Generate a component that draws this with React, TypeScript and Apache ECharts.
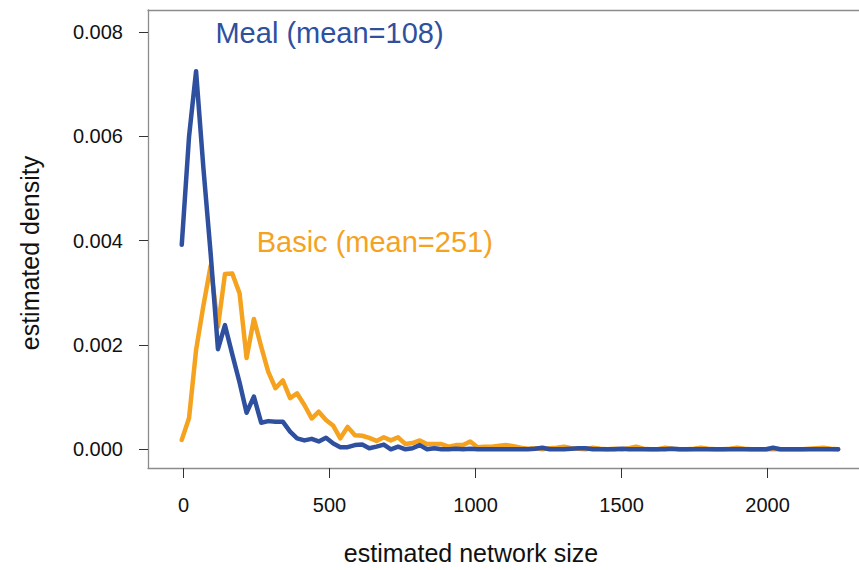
import React, { useEffect, useRef } from "react";
import * as echarts from "echarts";

// x grid of the density estimate (estimated network size)
const networkSize = [
  -6, 19, 43, 68, 93, 118, 142, 167, 192, 216,
  241, 266, 290, 315, 340, 365, 389, 414, 439, 463,
  488, 513, 537, 562, 587, 612, 636, 661, 686, 710,
  735, 760, 784, 809, 834, 859, 883, 908, 933, 957,
  982, 1007, 1031, 1056, 1081, 1106, 1130, 1155, 1180, 1204,
  1229, 1254, 1278, 1303, 1328, 1353, 1377, 1402, 1427, 1451,
  1476, 1501, 1525, 1550, 1575, 1600, 1624, 1649, 1674, 1698,
  1723, 1748, 1772, 1797, 1822, 1847, 1871, 1896, 1921, 1945,
  1970, 1995, 2019, 2044, 2069, 2094, 2118, 2143, 2168, 2192,
  2217, 2242,
];

// Meal condition density (blue)
const mealDensity = [
  0.00392, 0.006, 0.00725, 0.0054, 0.00375, 0.00192, 0.00238, 0.00182, 0.00128, 0.0007,
  0.00101, 0.00051, 0.00054, 0.00053, 0.00053, 0.00034, 0.00021, 0.00017, 0.0002, 0.00015,
  0.00022, 0.00011, 0.00004, 0.00004, 0.00008, 0.00009, 0.00002, 0.00005, 0.00009, 0.0,
  0.00005, 0.0, 0.00002, 0.00008, 0.0, 0.00002, 0.0, 0.0, 0.00001, 0.0,
  0.00001, 0.0, 0.0, 0.0, 0.0, 0.0, 0.0, 0.0, 0.0, 0.00001,
  0.00003, 0.0, 0.0, 0.0, 0.00001, 0.00002, 0.00002, 0.0, 0.0, 0.0,
  0.0, 0.00001, 0.0, 0.0, 0.0, 0.0, 0.0, 0.0, 0.00001, 0.0,
  0.0, 0.0, 0.0, 0.0, 0.0, 0.0, 0.0, 0.0, 0.0, 0.0,
  0.0, 0.0, 0.00003, 0.0, 0.0, 0.0, 0.0, 0.0, 0.0, 0.0,
  0.0, 0.0,
];

// Basic condition density (orange)
const basicDensity = [
  0.00018, 0.0006, 0.0019, 0.00275, 0.00352, 0.00235, 0.00336, 0.00337, 0.00299, 0.00175,
  0.0025, 0.00197, 0.00149, 0.00117, 0.00132, 0.00098, 0.00107, 0.00085, 0.00059, 0.00072,
  0.00056, 0.00045, 0.00021, 0.00043, 0.00027, 0.00026, 0.00022, 0.00016, 0.00023, 0.00017,
  0.00023, 0.0001, 0.00012, 0.00017, 0.0001, 0.0001, 0.0001, 0.00005, 0.00008, 0.00008,
  0.00015, 0.00004, 0.00005, 0.00005, 0.00007, 0.00008, 0.00006, 0.00003, 0.00001, 0.00002,
  0.0, 0.00002, 0.00003, 0.00005, 0.00002, 0.00001, 0.0, 0.00003, 0.00001, 0.0,
  0.00001, 0.0, 0.00002, 0.00005, 0.00001, 0.0, 0.0, 0.00003, 0.00001, 0.0,
  0.0, 0.00001, 0.00003, 0.00001, 0.0, 0.0, 0.00001, 0.00003, 0.00001, 0.0,
  0.0, 0.0, 0.0, 0.0, 0.0, 0.0, 0.0, 0.00001, 0.00002, 0.00003,
  0.00001, 0.0,
];

const xTicks = [0, 500, 1000, 1500, 2000];
const yTicks = [0, 0.002, 0.004, 0.006, 0.008];

const annotations = [
  { text: "Meal (mean=108)", x: 500, y: 0.00798, color: "#2F4F9F" },
  { text: "Basic (mean=251)", x: 655, y: 0.003975, color: "#F5A21F" },
];

const BLUE = "#2F4F9F";
const ORANGE = "#F5A21F";
const FRAME = "#8c8c8c";
const FONT = "'Liberation Sans', Arial, Helvetica, sans-serif";

const X_MIN = -121.6;
const X_MAX = 2313.3;

export default function App() {
  const ref = useRef<HTMLDivElement>(null);

  useEffect(() => {
    if (!ref.current) return;
    const chart = echarts.init(ref.current, null, { renderer: "svg" });
    const mk = (arr: number[]) => networkSize.map((x, i) => [x, arr[i]]);

    chart.setOption({
      animation: false,
      backgroundColor: "#ffffff",
      grid: {
        left: 148,
        top: 10,
        right: 0,
        bottom: 102,
        show: false,
      },
      xAxis: [
        {
          type: "value",
          position: "bottom",
          min: X_MIN,
          max: X_MAX,
          axisLine: { show: true, onZero: false, lineStyle: { color: FRAME, width: 1.3 } },
          splitLine: { show: false },
          axisTick: {
            show: true,
            customValues: xTicks,
            length: 10,
            lineStyle: { color: "#333333", width: 1 },
          },
          axisLabel: {
            show: true,
            customValues: xTicks,
            margin: 27,
            fontSize: 20,
            fontFamily: FONT,
            color: "#111111",
            formatter: (v: number) => String(v),
          },
        },
        {
          type: "value",
          position: "top",
          min: X_MIN,
          max: X_MAX,
          axisLine: { show: true, onZero: false, lineStyle: { color: FRAME, width: 1.3 } },
          splitLine: { show: false },
          axisTick: { show: false },
          axisLabel: { show: false },
        },
      ],
      yAxis: {
        type: "value",
        min: -0.000359,
        max: 0.008424,
        axisLine: { show: true, onZero: false, lineStyle: { color: FRAME, width: 1.3 } },
        splitLine: { show: false },
        axisTick: {
          show: true,
          customValues: yTicks,
          length: 9,
          lineStyle: { color: "#333333", width: 1 },
        },
        axisLabel: {
          show: true,
          customValues: yTicks,
          margin: 25,
          fontSize: 20,
          fontFamily: FONT,
          color: "#111111",
          formatter: (v: number) => v.toFixed(3),
        },
      },
      series: [
        {
          name: "Basic",
          type: "line",
          data: mk(basicDensity),
          showSymbol: false,
          symbol: "none",
          lineStyle: { color: ORANGE, width: 4.5, cap: "round", join: "round" },
          silent: true,
          z: 2,
        },
        {
          name: "Meal",
          type: "line",
          data: mk(mealDensity),
          showSymbol: false,
          symbol: "none",
          lineStyle: { color: BLUE, width: 4.5, cap: "round", join: "round" },
          silent: true,
          z: 3,
        },
        {
          name: "labels",
          type: "scatter",
          symbolSize: 0,
          silent: true,
          z: 4,
          itemStyle: { opacity: 1 },
          data: annotations.map((a) => ({
            value: [a.x, a.y],
            label: {
              show: true,
              position: "inside",
              formatter: a.text,
              color: a.color,
              opacity: 1,
              fontSize: 29,
              fontFamily: FONT,
              align: "center",
              verticalAlign: "middle",
            },
          })),
        },
      ],
      graphic: [
        {
          type: "text",
          x: 471,
          y: 553,
          style: {
            text: "estimated network size",
            fontSize: 25,
            fontFamily: FONT,
            fill: "#111111",
            align: "center",
            verticalAlign: "middle",
          },
        },
        {
          type: "text",
          x: 30,
          y: 253,
          rotation: Math.PI / 2,
          style: {
            text: "estimated density",
            fontSize: 25,
            fontFamily: FONT,
            fill: "#111111",
            align: "center",
            verticalAlign: "middle",
          },
        },
      ],
    });

    return () => chart.dispose();
  }, []);

  return (
    <div
      ref={ref}
      style={{ position: "fixed", left: 0, top: 0, width: 859, height: 570, background: "#fff" }}
    />
  );
}
